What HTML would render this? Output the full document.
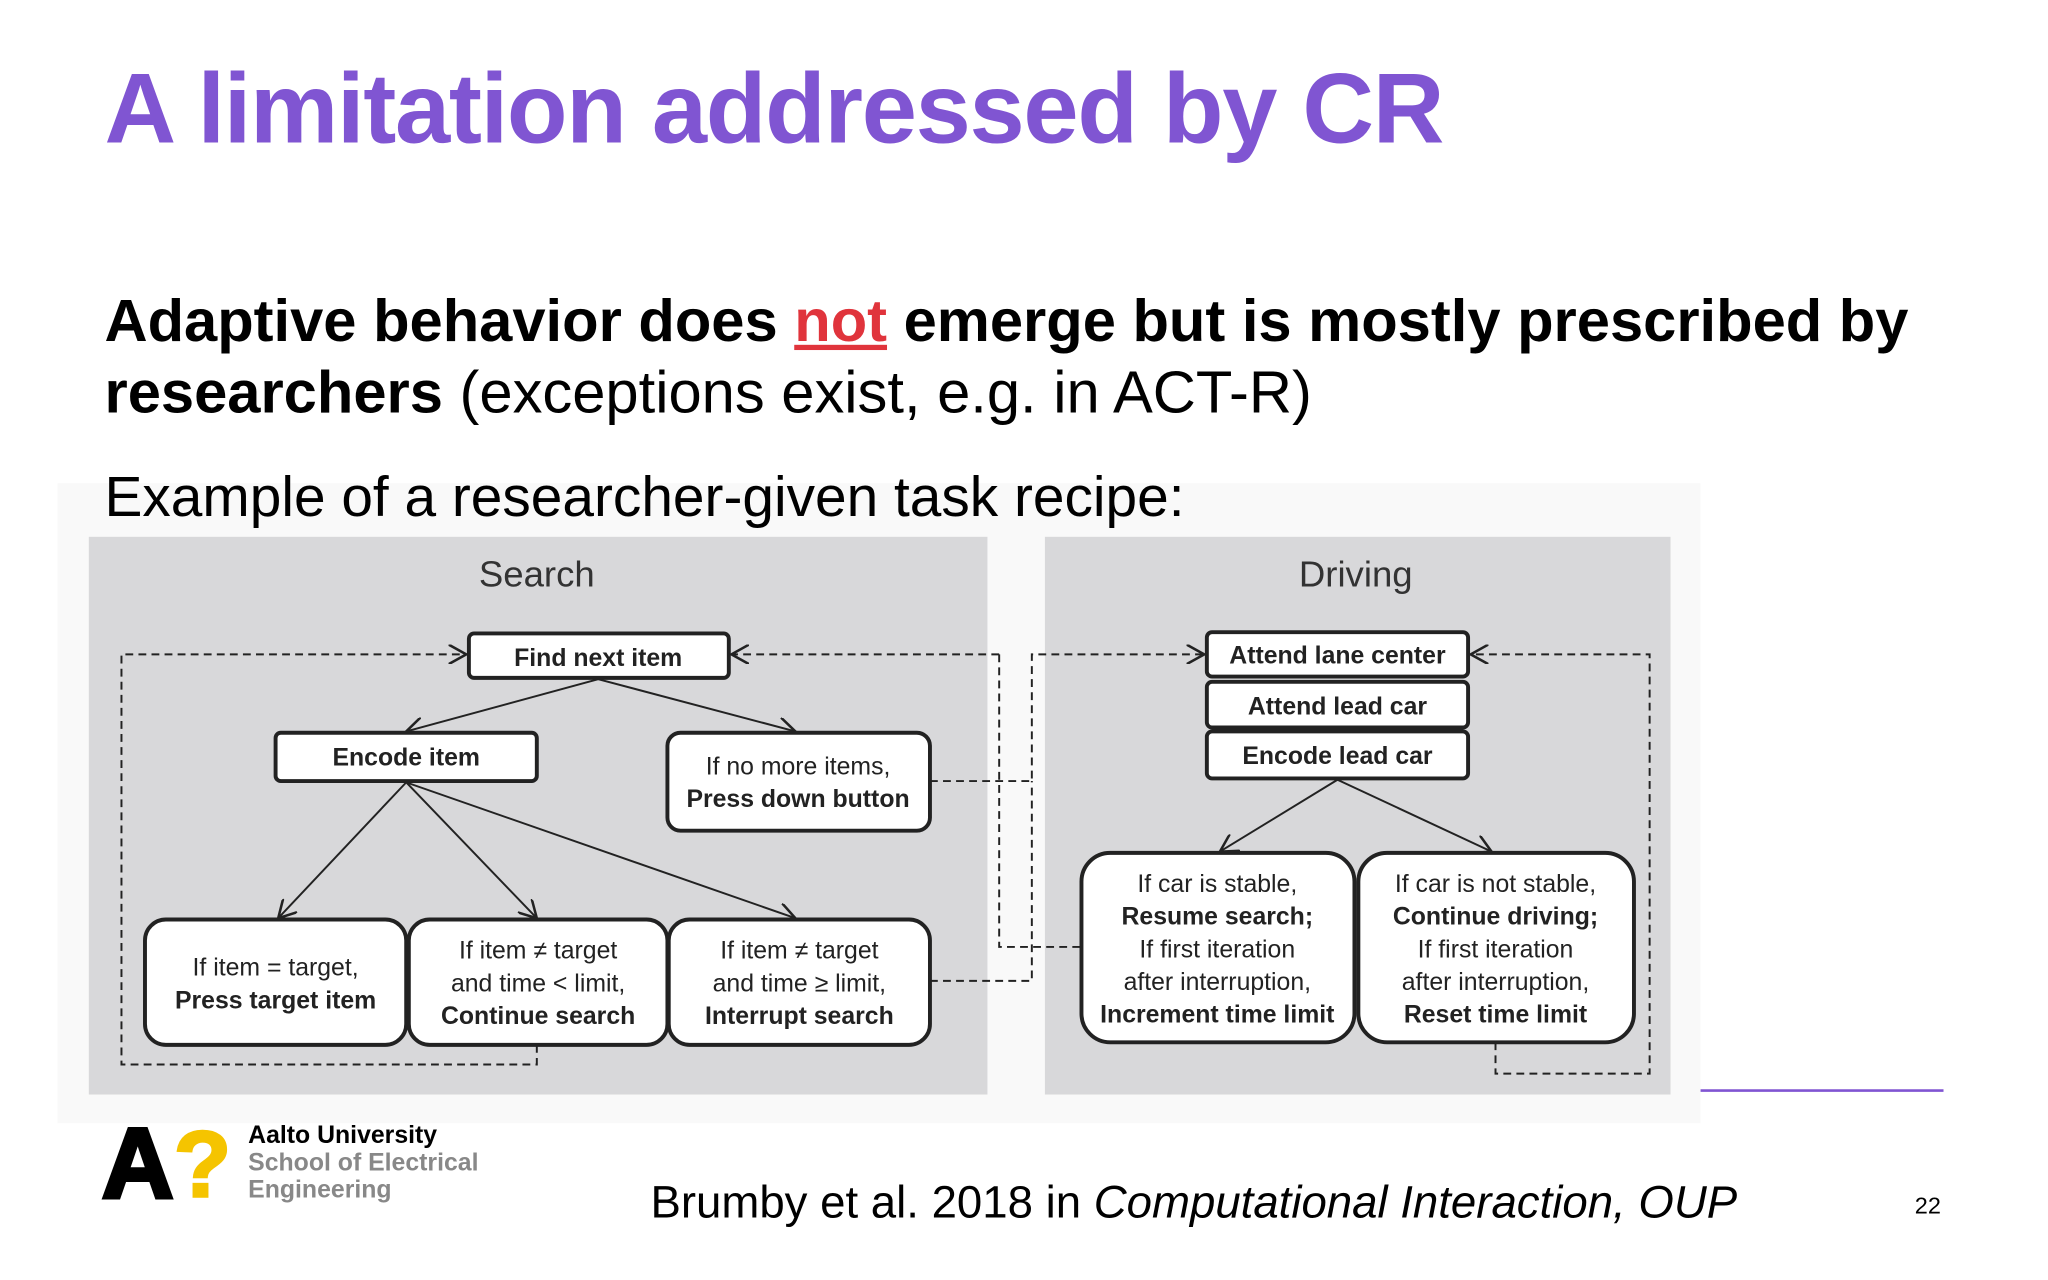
<!DOCTYPE html>
<html><head><meta charset="utf-8">
<style>
html,body{margin:0;padding:0;background:#fff;overflow:hidden}
#wrap{width:2048px;height:1280px;overflow:hidden;position:relative}
#slide{position:absolute;left:0;top:0;width:1568px;height:980px;transform:scale(1.30612);transform-origin:0 0;font-family:"Liberation Sans",Arial,sans-serif;background:#fff}
.t{position:absolute;white-space:nowrap}
</style></head><body>
<div id="wrap"><div id="slide">
<div class="t" style="left:80px;top:40px;font-size:76px;font-weight:bold;color:#8055d2;letter-spacing:-1px">A limitation addressed by CR</div>
<div class="t" style="left:80px;top:218px;font-size:45.7px;line-height:55px;color:#000"><b>Adaptive behavior does <span style="color:#e0343c;text-decoration:underline">not</span> emerge but is mostly prescribed by<br>researchers</b> (exceptions exist, e.g. in ACT-R)</div>
<div style="position:absolute;left:44px;top:370px;width:1258px;height:490px;background:#f9f9f9"></div>
<div class="t" style="left:80px;top:357px;font-size:43.5px;color:#000">Example of a researcher-given task recipe:</div>
<svg style="position:absolute;left:0;top:0" width="1568" height="980" font-family="Liberation Sans, Arial, sans-serif">
<defs><marker id="ah" markerWidth="10" markerHeight="10" refX="9" refY="5" orient="auto"><path d="M0,0 L9,5 L0,10" fill="none" stroke="#222" stroke-width="1.3"/></marker></defs>
<rect x="68" y="411" width="688" height="427" fill="#d8d8da"/>
<rect x="800" y="411" width="479" height="427" fill="#d8d8da"/>
<text x="411" y="449" font-size="28" fill="#333" text-anchor="middle">Search</text>
<text x="1038" y="449" font-size="28" fill="#333" text-anchor="middle">Driving</text>
<g fill="none" stroke="#222" stroke-width="1.5" stroke-dasharray="6,4">
<path d="M411,800 V815 H93 V501 H357" marker-end="url(#ah)"/>
<path d="M765,501 H560" marker-end="url(#ah)"/>
<path d="M765,501 V725 H828"/>
<path d="M712,598 H790 V501 H922" marker-end="url(#ah)"/>
<path d="M712,751 H790 V598"/>
<path d="M1145,798 V822 H1263 V501 H1126" marker-end="url(#ah)"/>
</g>
<g stroke="#222" stroke-width="1.5" marker-end="url(#ah)">
<line x1="458" y1="520" x2="311" y2="560"/>
<line x1="458" y1="520" x2="609" y2="560"/>
<line x1="311" y1="599" x2="213" y2="703"/>
<line x1="311" y1="599" x2="411" y2="703"/>
<line x1="311" y1="599" x2="609" y2="703"/>
<line x1="1024" y1="597" x2="934" y2="652"/>
<line x1="1024" y1="597" x2="1142" y2="652"/>
</g>
<g fill="#fff" stroke="#222" stroke-width="3">
<rect x="359" y="485" width="199" height="34" rx="4"/>
<rect x="211" y="561" width="200" height="37" rx="4"/>
<rect x="511" y="561" width="201" height="75" rx="10"/>
<rect x="111" y="704" width="200" height="96" rx="16"/>
<rect x="313" y="704" width="198" height="96" rx="16"/>
<rect x="512" y="704" width="200" height="96" rx="16"/>
<rect x="924" y="484" width="200" height="34" rx="4"/>
<rect x="924" y="522" width="200" height="35" rx="4"/>
<rect x="924" y="560" width="200" height="36" rx="4"/>
<rect x="828" y="653" width="209" height="145" rx="22"/>
<rect x="1040" y="653" width="211" height="145" rx="22"/>
</g>
<g font-size="19" fill="#222" text-anchor="middle">
<text x="458" y="510" font-weight="bold">Find next item</text>
<text x="311" y="586" font-weight="bold">Encode item</text>
<text x="611" y="593">If no more items,</text>
<text x="611" y="618" font-weight="bold">Press down button</text>
<text x="211" y="747">If item = target,</text>
<text x="211" y="772" font-weight="bold">Press target item</text>
<text x="412" y="734">If item ≠ target</text>
<text x="412" y="759">and time &lt; limit,</text>
<text x="412" y="784" font-weight="bold">Continue search</text>
<text x="612" y="734">If item ≠ target</text>
<text x="612" y="759">and time ≥ limit,</text>
<text x="612" y="784" font-weight="bold">Interrupt search</text>
<text x="1024" y="508" font-weight="bold">Attend lane center</text>
<text x="1024" y="547" font-weight="bold">Attend lead car</text>
<text x="1024" y="585" font-weight="bold">Encode lead car</text>
<text x="932" y="683">If car is stable,</text>
<text x="932" y="708" font-weight="bold">Resume search;</text>
<text x="932" y="733">If first iteration</text>
<text x="932" y="758">after interruption,</text>
<text x="932" y="783" font-weight="bold">Increment time limit</text>
<text x="1145" y="683">If car is not stable,</text>
<text x="1145" y="708" font-weight="bold">Continue driving;</text>
<text x="1145" y="733">If first iteration</text>
<text x="1145" y="758">after interruption,</text>
<text x="1145" y="783" font-weight="bold">Reset time limit</text>
</g>
<line x1="1302" y1="835" x2="1488" y2="835" stroke="#8055d2" stroke-width="2"/>
<g>
<text x="78" y="917" font-size="76" font-weight="bold" fill="#000" stroke="#000" stroke-width="3">A</text>
<text x="133" y="916" font-size="72" font-weight="bold" fill="#f5c400" stroke="#f5c400" stroke-width="2">?</text>
</g>
</svg>
<div class="t" style="left:190px;top:859px;font-size:19px;line-height:21px;font-weight:bold;color:#000">Aalto University<br><span style="color:#888">School of Electrical<br>Engineering</span></div>
<div class="t" style="left:498px;top:901px;font-size:34.9px;color:#000">Brumby et al. 2018 in <i>Computational Interaction, OUP</i></div>
<div class="t" style="left:1466px;top:913px;font-size:18px;color:#000">22</div>
</div></div>
</body></html>
